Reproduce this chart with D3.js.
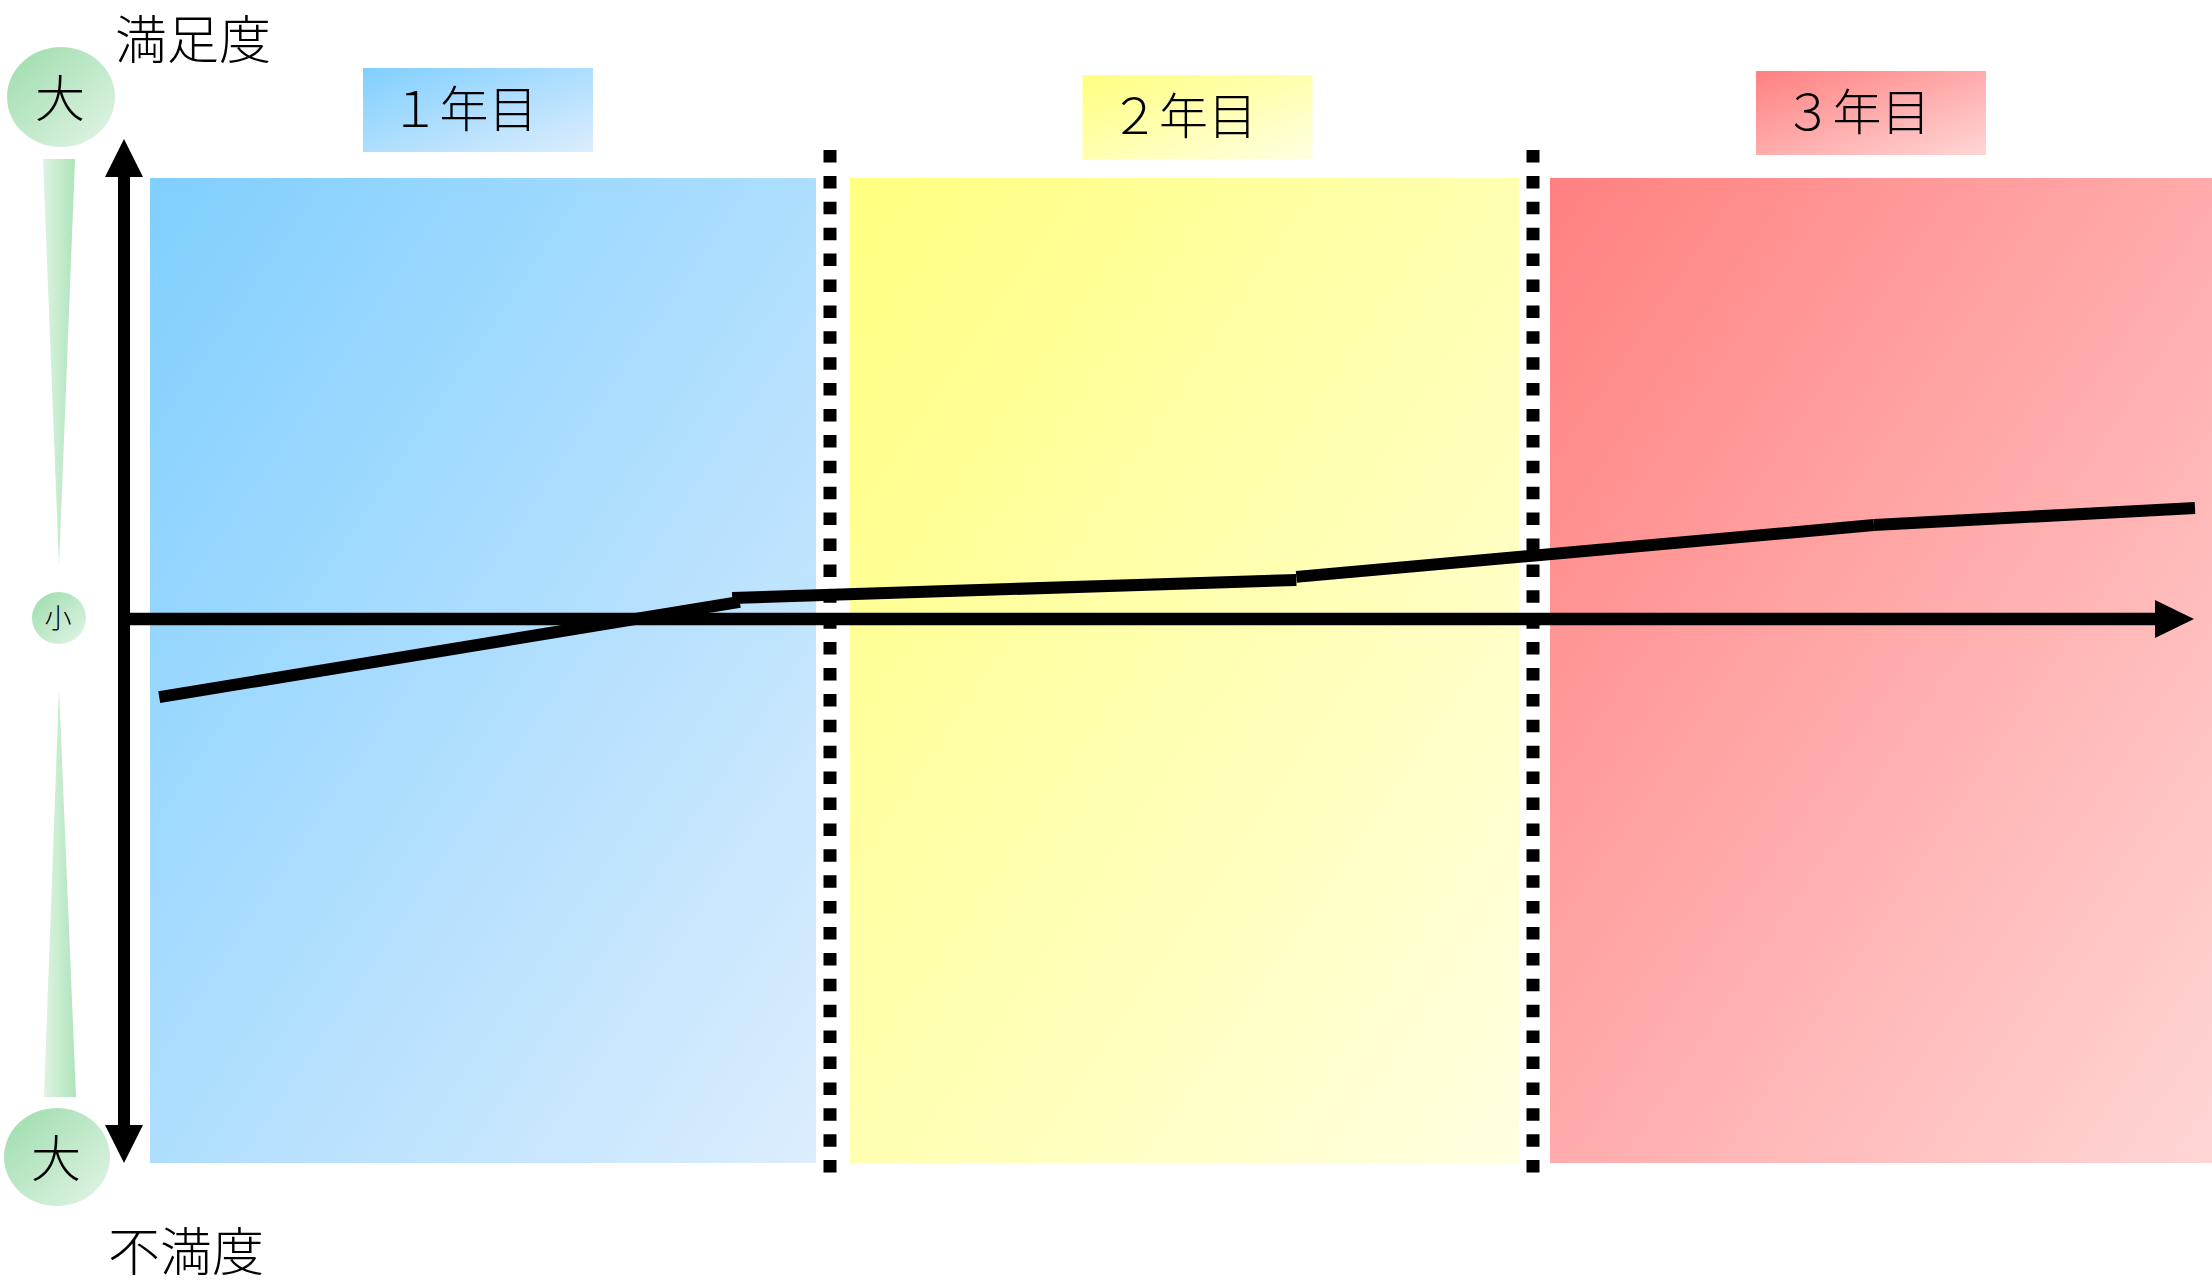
<!DOCTYPE html>
<html lang="ja">
<head>
<meta charset="utf-8">
<script src="https://cdn.jsdelivr.net/npm/d3@7"></script>
<style>
  body { margin: 0; background: #fff; }
  svg { display: block; }
  text { font-family: "Noto Sans CJK JP", sans-serif; font-weight: 300; fill: #000; }
</style>
</head>
<body>
<div id="chart"></div>
<script>
// years across the top (start / end in months)
var years = ["１年目", "２年目", "３年目"];
var yearStart = [0, 12, 24];
var yearEnd = [12, 24, 36];

// satisfaction line, drawn as four separate pieces (month, score)
var segX0 = [0.55, 10.33, 19.96, 29.82];
var segY0 = [-17.8, 4.8, 9.6, 21.4];
var segX1 = [10.46, 19.96, 29.82, 35.30];
var segY1 = [3.9, 8.9, 21.4, 25.3];

// axis texts
var topLabel = "満足度";
var bottomLabel = "不満度";
var bigLabel = "大";
var smallLabel = "小";

var width = 2212, height = 1288;

var svg = d3.select("#chart").append("svg")
  .attr("width", width)
  .attr("height", height);

// months -> px, score -> px (0 sits on the x axis)
var xScale = d3.scaleLinear().domain([0, 36]).range([127, 2236]);
var yScale = d3.scaleLinear().domain([-100, 100]).range([1058, 180]);

var defs = svg.append("defs");

// diagonal fills, strong at top left, pale at bottom right
var fromCol = ["#80cfff", "#ffff80", "#ff8080"];
var toCol = ["#dcedfd", "#ffffe2", "#ffd6d6"];

years.forEach(function (y, i) {
  var g = defs.append("linearGradient")
    .attr("id", "yr" + i)
    .attr("x1", 0).attr("y1", 0).attr("x2", 1).attr("y2", 1);
  g.append("stop").attr("offset", "0%").attr("stop-color", fromCol[i]);
  g.append("stop").attr("offset", "100%").attr("stop-color", toCol[i]);
});

var gc = defs.append("linearGradient")
  .attr("id", "green")
  .attr("x1", 0).attr("y1", 0).attr("x2", 1).attr("y2", 1);
gc.append("stop").attr("offset", "0%").attr("stop-color", "#9cdcab");
gc.append("stop").attr("offset", "100%").attr("stop-color", "#e3f5e7");

var gb = defs.append("linearGradient")
  .attr("id", "greenBar")
  .attr("x1", 0).attr("y1", 0).attr("x2", 1).attr("y2", 0);
gb.append("stop").attr("offset", "0%").attr("stop-color", "#def3e2");
gb.append("stop").attr("offset", "100%").attr("stop-color", "#aee4bb");

// year panels
var panelTop = 178, panelBottom = 1163;
var padLeft = [23, 20, 17];
function panelLeft(i) { return xScale(yearStart[i]) + padLeft[i]; }
function panelRight(i) { return Math.min(width, xScale(yearEnd[i]) - 14); }

svg.selectAll(".panel")
  .data(years)
  .enter()
  .append("rect")
  .attr("class", "panel")
  .attr("x", function (d, i) { return panelLeft(i); })
  .attr("y", panelTop)
  .attr("width", function (d, i) { return panelRight(i) - panelLeft(i); })
  .attr("height", panelBottom - panelTop)
  .attr("fill", function (d, i) { return "url(#yr" + i + ")"; });

// year label boxes above the panels
var boxW = 230, boxH = 84;
var boxNudge = [-5, 13, -10];
var boxTop = [68, 75, 71];

var labels = svg.selectAll(".yearLabel")
  .data(years)
  .enter()
  .append("g")
  .attr("class", "yearLabel")
  .attr("transform", function (d, i) {
    var cx = (panelLeft(i) + panelRight(i)) / 2 + boxNudge[i];
    return "translate(" + (cx - boxW / 2) + "," + boxTop[i] + ")";
  });

labels.append("rect")
  .attr("width", boxW)
  .attr("height", boxH)
  .attr("fill", function (d, i) { return "url(#yr" + i + ")"; });

labels.append("text")
  .attr("x", boxW / 2 - 14)
  .attr("y", boxH / 2 - 5)
  .attr("text-anchor", "middle")
  .attr("dominant-baseline", "central")
  .style("font-size", "49px")
  .text(function (d) { return d; });

// dotted year dividers
svg.selectAll(".divider")
  .data(yearStart.slice(1))
  .enter()
  .append("line")
  .attr("class", "divider")
  .attr("x1", function (d) { return xScale(d); })
  .attr("x2", function (d) { return xScale(d); })
  .attr("y1", 150)
  .attr("y2", 1173)
  .attr("stroke", "#000")
  .attr("stroke-width", 13)
  .attr("stroke-dasharray", "12.5 13.4");

// x axis with arrow
var axisY = yScale(0);
var axisX = xScale(0) - 3;
svg.append("line")
  .attr("x1", axisX - 6).attr("x2", 2160)
  .attr("y1", axisY).attr("y2", axisY)
  .attr("stroke", "#000")
  .attr("stroke-width", 12.5);
svg.append("path")
  .attr("d", "M2194," + axisY + "L2155," + (axisY - 19) + "L2155," + (axisY + 19) + "Z")
  .attr("fill", "#000");

// y axis, arrows both ways
svg.append("line")
  .attr("x1", axisX).attr("x2", axisX)
  .attr("y1", 170).attr("y2", 1130)
  .attr("stroke", "#000")
  .attr("stroke-width", 12);
svg.append("path")
  .attr("d", "M" + axisX + ",139L" + (axisX - 19) + ",177L" + (axisX + 19) + ",177Z")
  .attr("fill", "#000");
svg.append("path")
  .attr("d", "M" + axisX + ",1163L" + (axisX - 19) + ",1125L" + (axisX + 19) + ",1125Z")
  .attr("fill", "#000");

// satisfaction line pieces
var line = d3.line()
  .x(function (d) { return xScale(d[0]); })
  .y(function (d) { return yScale(d[1]); });

segX0.forEach(function (x0, i) {
  svg.append("path")
    .datum([[x0, segY0[i]], [segX1[i], segY1[i]]])
    .attr("class", "line")
    .attr("d", line)
    .attr("fill", "none")
    .attr("stroke", "#000")
    .attr("stroke-width", 12)
    .attr("stroke-linecap", "butt");
});

// green scale on the left: big - small - big
svg.append("path")
  .attr("d", "M43,159L75,159L59,566Z")
  .attr("fill", "url(#greenBar)");
svg.append("path")
  .attr("d", "M59,688L76,1097L44,1097Z")
  .attr("fill", "url(#greenBar)");

var dots = [
  { cx: 61, cy: 97, rx: 54, ry: 50, t: bigLabel, size: 50 },
  { cx: 59, cy: 618, rx: 27, ry: 26, t: smallLabel, size: 27 },
  { cx: 57, cy: 1157, rx: 53, ry: 49, t: bigLabel, size: 50 }
];

dots.forEach(function (d) {
  svg.append("ellipse")
    .attr("cx", d.cx).attr("cy", d.cy)
    .attr("rx", d.rx).attr("ry", d.ry)
    .attr("fill", "url(#green)");
  svg.append("text")
    .attr("x", d.cx - 1)
    .attr("y", d.cy - 2)
    .attr("text-anchor", "middle")
    .attr("dominant-baseline", "central")
    .style("font-size", d.size + "px")
    .text(d.t);
});

// axis titles
svg.append("text")
  .attr("x", 115)
  .attr("y", 59)
  .style("font-size", "52px")
  .text(topLabel);

svg.append("text")
  .attr("x", 108)
  .attr("y", 1271)
  .style("font-size", "52px")
  .text(bottomLabel);
</script>
</body>
</html>
